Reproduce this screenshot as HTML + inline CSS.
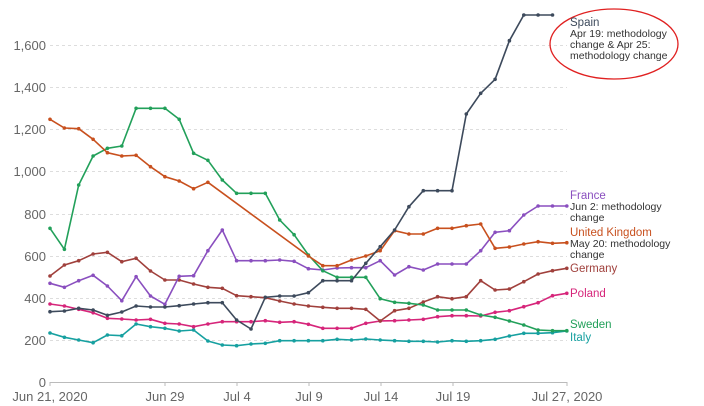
<!DOCTYPE html>
<html><head><meta charset="utf-8"><style>
html,body{margin:0;padding:0;background:#fff;}
svg{display:block;font-family:"Liberation Sans",Arial,sans-serif;}
</style></head><body>
<svg id="c" width="704" height="406" viewBox="0 0 704 406" xmlns="http://www.w3.org/2000/svg">
<g stroke="#ddd" stroke-dasharray="3,3" stroke-width="1">
<line x1="50" x2="567" y1="340.5" y2="340.5"/><line x1="50" x2="567" y1="298.5" y2="298.5"/>
<line x1="50" x2="567" y1="256.5" y2="256.5"/><line x1="50" x2="567" y1="214.5" y2="214.5"/>
<line x1="50" x2="567" y1="171.5" y2="171.5"/><line x1="50" x2="567" y1="129.5" y2="129.5"/>
<line x1="50" x2="567" y1="87.5" y2="87.5"/><line x1="50" x2="567" y1="45.5" y2="45.5"/>
</g>
<line x1="50" x2="567" y1="382.5" y2="382.5" stroke="#bbb"/>
<g stroke="#bbb"><line x1="50" x2="50" y1="382" y2="386"/><line x1="165" x2="165" y1="382" y2="386"/><line x1="237" x2="237" y1="382" y2="386"/><line x1="309" x2="309" y1="382" y2="386"/><line x1="381" x2="381" y1="382" y2="386"/><line x1="453" x2="453" y1="382" y2="386"/><line x1="567" x2="567" y1="382" y2="386"/></g>
<g fill="#666" font-size="13" text-anchor="end">
<text x="46" y="387">0</text><text x="46" y="345">200</text><text x="46" y="303">400</text>
<text x="46" y="261">600</text><text x="46" y="219">800</text><text x="46" y="176">1,000</text>
<text x="46" y="134">1,200</text><text x="46" y="92">1,400</text><text x="46" y="50">1,600</text>
</g>
<g fill="#666" font-size="13" text-anchor="middle">
<text x="50" y="401">Jun 21, 2020</text><text x="165" y="401">Jun 29</text><text x="237" y="401">Jul 4</text>
<text x="309" y="401">Jul 9</text><text x="381" y="401">Jul 14</text><text x="453" y="401">Jul 19</text>
<text x="567" y="401">Jul 27, 2020</text>
</g>
<g id="series"></g>
<ellipse cx="614" cy="44" rx="64" ry="35" fill="none" stroke="#e02020" stroke-width="1.3"/>
<g font-size="11.5">
<text x="570" y="26" fill="#3d4a5c">Spain</text>
<g fill="#333" font-size="10.5"><text x="570" y="37">Apr 19: methodology</text><text x="570" y="48">change &amp; Apr 25:</text><text x="570" y="59">methodology change</text></g>
<text x="570" y="199" fill="#8a4fbf">France</text>
<g fill="#333" font-size="10.5"><text x="570" y="210">Jun 2: methodology</text><text x="570" y="221">change</text></g>
<text x="570" y="236" fill="#c8501e">United Kingdom</text>
<g fill="#333" font-size="10.5"><text x="570" y="247">May 20: methodology</text><text x="570" y="258">change</text></g>
<text x="570" y="272" fill="#a0403c">Germany</text>
<text x="570" y="297" fill="#d6257a">Poland</text>
<text x="570" y="328" fill="#22a05a">Sweden</text>
<text x="570" y="341" fill="#16a0a0">Italy</text>
</g>
</svg>
<script>
var S=[
["#16a0a0",[999,1012,1020,1028,1005,1007,972,980,985,993,990,1023,1035,1037,1032,1030,1022,1022,1022,1022,1018,1020,1017,1020,1022,1024,1024,1026,1022,1024,1022,1018,1008,1000,1000,998,993]],
["#d6257a",[912,918,928,938,955,957,960,958,970,972,980,972,965,965,965,962,967,965,973,985,985,985,970,963,962,960,958,950,947,947,948,937,932,920,908,887,880]],
["#a0403c",[828,795,782,762,757,785,775,813,840,840,852,862,865,887,890,893,903,912,918,922,925,925,928,963,932,925,906,890,896,890,842,870,867,845,822,812,805]],
["#8a4fbf",[850,862,842,826,858,902,830,888,913,829,827,752,690,782,782,782,780,784,806,810,804,803,803,782,825,800,810,792,792,792,752,697,692,645,618,618,618]],
["#22a05a",[685,748,555,468,445,438,325,325,325,358,460,481,540,580,580,580,660,704,765,812,832,832,832,896,907,910,915,930,930,930,945,952,963,975,990,992,992]],
["#c8501e",[358,384,386,418,458,468,466,500,530,543,566,547,null,null,null,null,null,null,768,797,797,780,768,752,692,702,702,685,685,677,672,745,741,732,725,730,728]],
["#3d4a5c",[935,933,925,930,946,936,918,921,921,917,912,908,908,960,987,892,888,888,878,842,842,842,790,740,690,620,572,572,572,342,280,238,122,45,45,45,null]]
];
var g=document.getElementById('series'),h='';
S.forEach(function(s){var pts=[],dots='';s[1].forEach(function(v,d){if(v==null)return;var x=((150+43.07*d)/3).toFixed(1),y=(v/3).toFixed(1);pts.push(x+','+y);dots+='<circle cx="'+x+'" cy="'+y+'" r="1.8" fill="'+s[0]+'"/>';});
h+='<polyline fill="none" stroke="'+s[0]+'" stroke-width="1.6" stroke-linejoin="round" points="'+pts.join(' ')+'"/>'+dots;});
g.innerHTML=h;
</script>
</body></html>
